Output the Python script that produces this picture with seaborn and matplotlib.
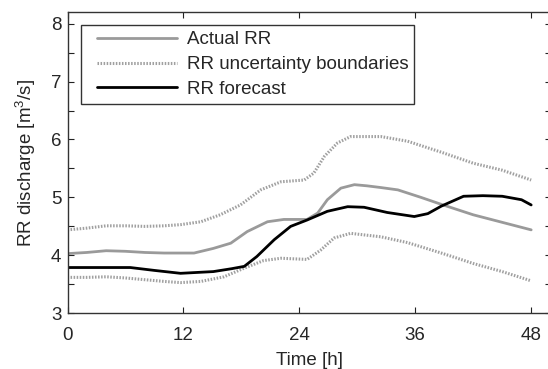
import matplotlib
matplotlib.use("Agg")
import matplotlib.pyplot as plt
from matplotlib.lines import Line2D
from matplotlib.legend_handler import HandlerLine2D
from matplotlib.ticker import MultipleLocator
import pandas as pd
import seaborn as sns

# Observed discharge
actual_t = [0, 2, 4, 6, 8, 10, 12, 13.1, 15.1, 16.9, 18.6, 20.7, 22.4, 24.8, 25.9, 26.9, 28.3,
            29.7, 31, 32.45, 34.2, 36.6, 38.7, 42, 45, 48]
actual_q = [4.03, 4.05, 4.08, 4.07, 4.05, 4.04, 4.04, 4.04, 4.12, 4.21, 4.41, 4.58, 4.62, 4.62,
            4.73, 4.96, 5.16, 5.22, 5.20, 5.17, 5.13, 5.00, 4.88, 4.70, 4.57, 4.44]

# Upper uncertainty boundary
upper_t = [0, 2, 4, 6, 8, 10, 11.7, 13.8, 15.8, 17.9, 20, 22.1, 24.5, 25.5, 26.6, 27.95, 29.3,
           31, 32.45, 35.2, 38.7, 42, 45, 48]
upper_q = [4.44, 4.47, 4.51, 4.51, 4.50, 4.51, 4.53, 4.58, 4.70, 4.87, 5.13, 5.27, 5.30, 5.42,
           5.71, 5.94, 6.05, 6.05, 6.05, 5.97, 5.78, 5.59, 5.47, 5.30]

# Lower uncertainty boundary
lower_t = [0, 2, 4, 6, 8, 10, 11.7, 13.8, 16.2, 18.3, 20.3, 22.1, 24.8, 26.2, 27.6, 29.3, 32.45,
           35.2, 38.7, 42, 45, 48]
lower_q = [3.62, 3.62, 3.63, 3.61, 3.58, 3.55, 3.53, 3.55, 3.63, 3.78, 3.91, 3.95, 3.93, 4.09,
           4.30, 4.38, 4.32, 4.22, 4.04, 3.86, 3.72, 3.56]

# Forecast discharge
fc_t = [0, 3, 6.5, 9, 11.7, 15.1, 17, 18.3, 19.6, 21.4, 23.1, 24.8, 26.9, 29, 30.7, 33.1, 35.9,
        37.3, 38.7, 41, 43, 45, 47, 48]
fc_q = [3.79, 3.79, 3.79, 3.74, 3.69, 3.72, 3.77, 3.81, 3.98, 4.27, 4.50, 4.61, 4.76, 4.84, 4.83,
        4.74, 4.67, 4.72, 4.85, 5.02, 5.03, 5.02, 4.96, 4.87]

x_ticks = [0, 12, 24, 36, 48]
y_ticks = [3, 4, 5, 6, 7, 8]

FS = 13.5

sns.set_theme(style="ticks")
plt.rcParams["font.family"] = ["Liberation Sans", "DejaVu Sans"]
plt.rcParams["mathtext.fontset"] = "custom"
plt.rcParams["mathtext.rm"] = "Liberation Sans"

fig = plt.figure(figsize=(5.48, 3.69), dpi=100)
ax = fig.add_axes([67.5 / 548, 55.7 / 369, 483 / 548, 301.3 / 369])

actual = pd.DataFrame({"t": actual_t, "q": actual_q})
upper = pd.DataFrame({"t": upper_t, "q": upper_q})
lower = pd.DataFrame({"t": lower_t, "q": lower_q})
fc = pd.DataFrame({"t": fc_t, "q": fc_q})

dots = (0, (0.5, 0.5))
sns.lineplot(data=actual, x="t", y="q", ax=ax, color="#9a9a9a", lw=2.0, label="Actual RR")
sns.lineplot(data=upper, x="t", y="q", ax=ax, color="#a0a0a0", lw=2.2, linestyle=dots,
             label="RR uncertainty boundaries")
sns.lineplot(data=lower, x="t", y="q", ax=ax, color="#a0a0a0", lw=2.2, linestyle=dots,
             label="_nolegend_")
sns.lineplot(data=fc, x="t", y="q", ax=ax, color="black", lw=2.0, label="RR forecast")

ax.set_xlim(0, 50)
ax.set_ylim(3, 8.2)
ax.set_xticks(x_ticks)
ax.set_yticks(y_ticks)
ax.yaxis.set_minor_locator(MultipleLocator(0.5))
ax.tick_params(which="both", direction="in", top=True, right=True, length=4, width=0.8,
               color="#222222", labelsize=FS)
ax.tick_params(axis="x", pad=10)
ax.tick_params(axis="y", pad=4.5)
for s in ax.spines.values():
    s.set_linewidth(1.0)
    s.set_color("#333333")

ax.set_xlabel("Time [h]", fontsize=FS, labelpad=5.5)
ax.set_ylabel("RR discharge [m$^3$/s]", fontsize=FS, labelpad=9.5)

leg = ax.legend(loc="upper left", bbox_to_anchor=((81 - 67.5) / 483, (313.3 - 25) / 301.3),
                borderaxespad=0, fontsize=FS, frameon=True, fancybox=False, framealpha=1,
                edgecolor="#333333", handlelength=4.77, handletextpad=0.53, labelspacing=0.41,
                borderpad=0.33, handler_map={Line2D: HandlerLine2D(xpad=0.5)})
leg.get_frame().set_linewidth(1.0)

fig.savefig("out.png", dpi=100)
